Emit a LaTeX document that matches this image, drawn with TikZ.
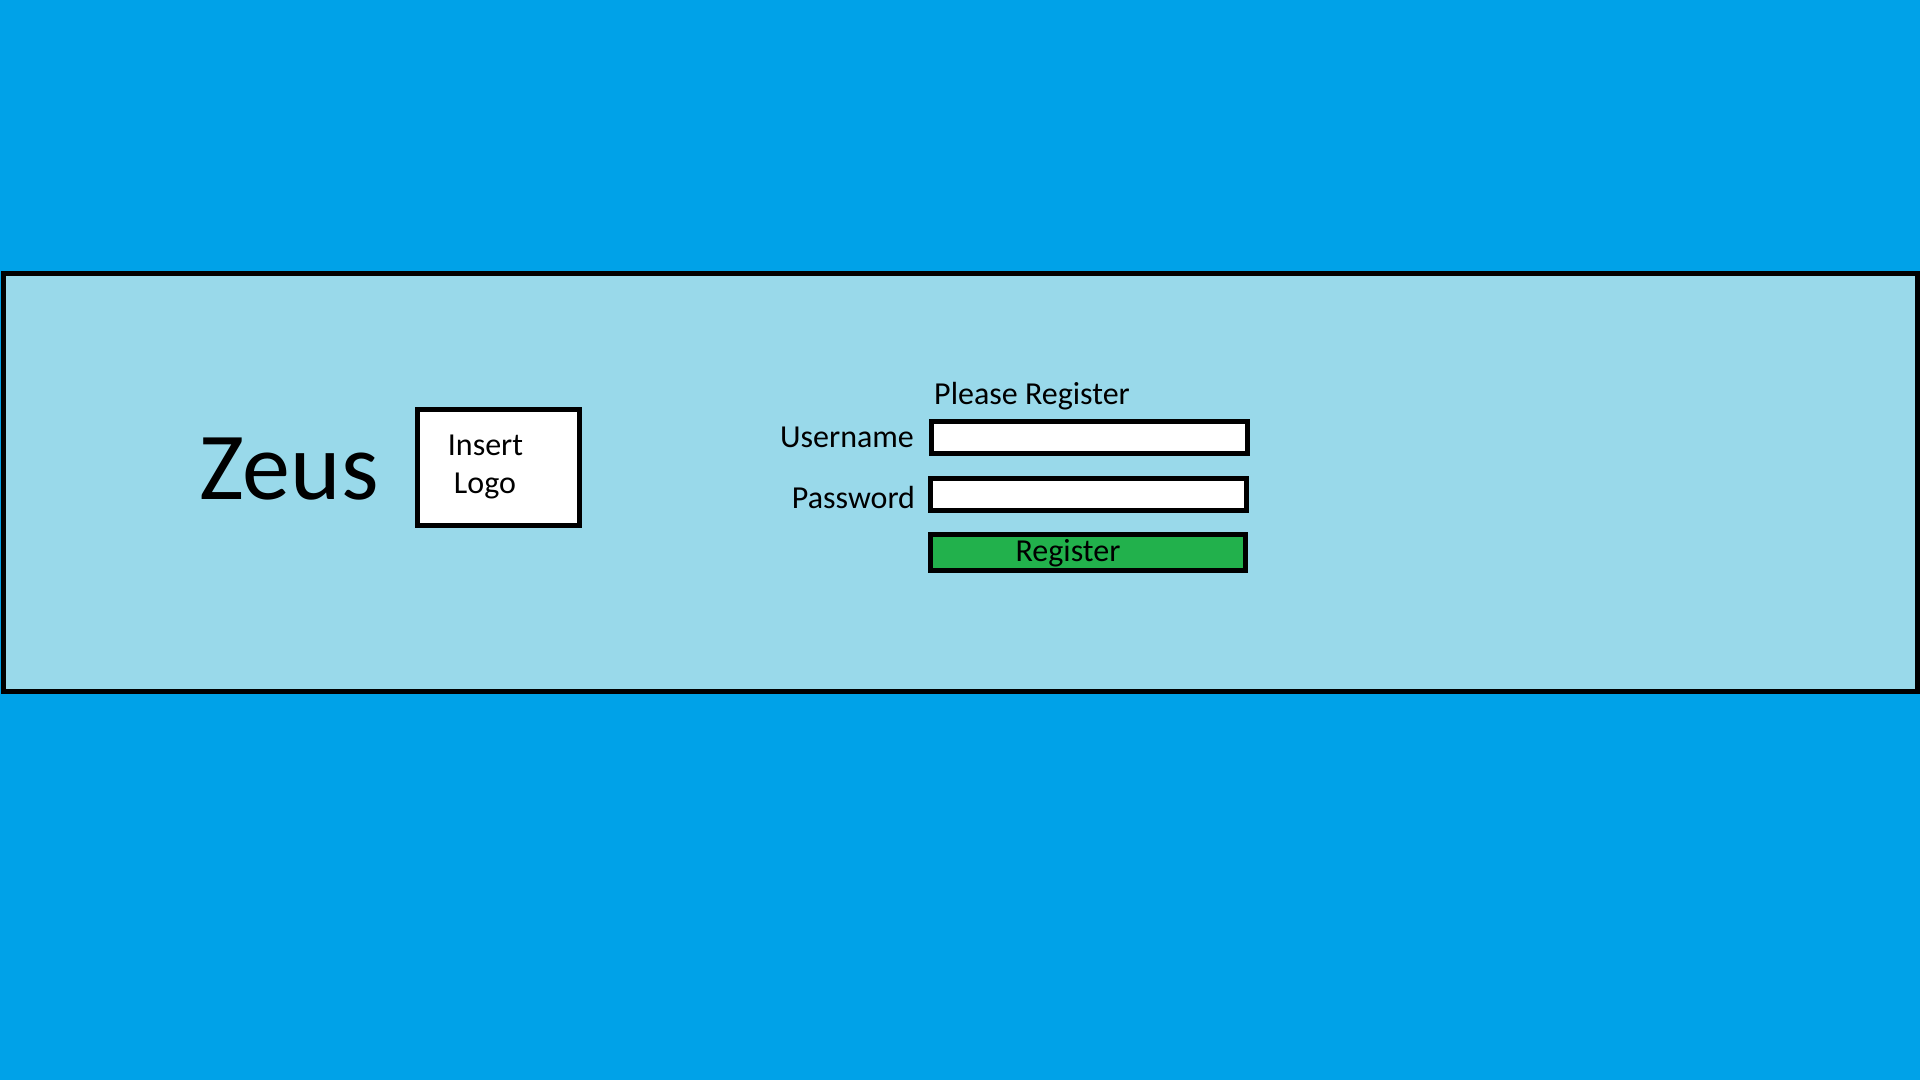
\documentclass[tikz,border=0pt]{standalone}
\usepackage{fontspec}
\setmainfont{Carlito}
\definecolor{bgblue}{HTML}{00A2E8}
\definecolor{panelblue}{HTML}{99D9EA}
\definecolor{btngreen}{HTML}{22B14C}
\tikzset{
  frame/.style={draw=black, line width=3.75pt, inner sep=0pt, outer sep=0pt, rectangle},
  field/.style={frame, fill=white},
  lbl/.style={inner sep=0pt, anchor=base, text=black, font=\fontsize{24pt}{28.5pt}\selectfont},
  title/.style={inner sep=0pt, anchor=base, text=black, font=\fontsize{72pt}{80pt}\selectfont}
}
\begin{document}
\begin{tikzpicture}[x=0.75pt, y=-0.75pt]
  \fill[bgblue] (0,0) rectangle (1920,1080);
  \useasboundingbox (0,0) rectangle (1920,1080);
  % panel
  \node[frame, fill=panelblue, minimum width={1914*0.75pt}, minimum height={418*0.75pt}] (panel) at (960.5,482.5) {};
  % title and logo
  \node[title] (zeus) at (289,499) {Zeus};
  \node[field, minimum width={161.7*0.75pt}, minimum height={116*0.75pt}] (logo) at (498.4,467.2) {};
  \node[lbl] (logo1) at (485.5,455.5) {Insert};
  \node[lbl] (logo2) at (485,493.5) {Logo};
  % form
  \node[lbl] (please) at (1032,404) {Please Register};
  \node[lbl] (ulabel) at (847,447.5) {Username};
  \node[field, minimum width={316*0.75pt}, minimum height={31.7*0.75pt}] (ubox) at (1089.5,437.4) {};
  \node[lbl] (plabel) at (853.5,508) {Password};
  \node[field, minimum width={316*0.75pt}, minimum height={31.7*0.75pt}] (pbox) at (1088.5,494.4) {};
  \node[frame, fill=btngreen, minimum width={314.7*0.75pt}, minimum height={36*0.75pt}] (rbtn) at (1087.9,552.8) {};
  \node[lbl] (rtext) at (1068,561.5) {Register};
\end{tikzpicture}
\end{document}
